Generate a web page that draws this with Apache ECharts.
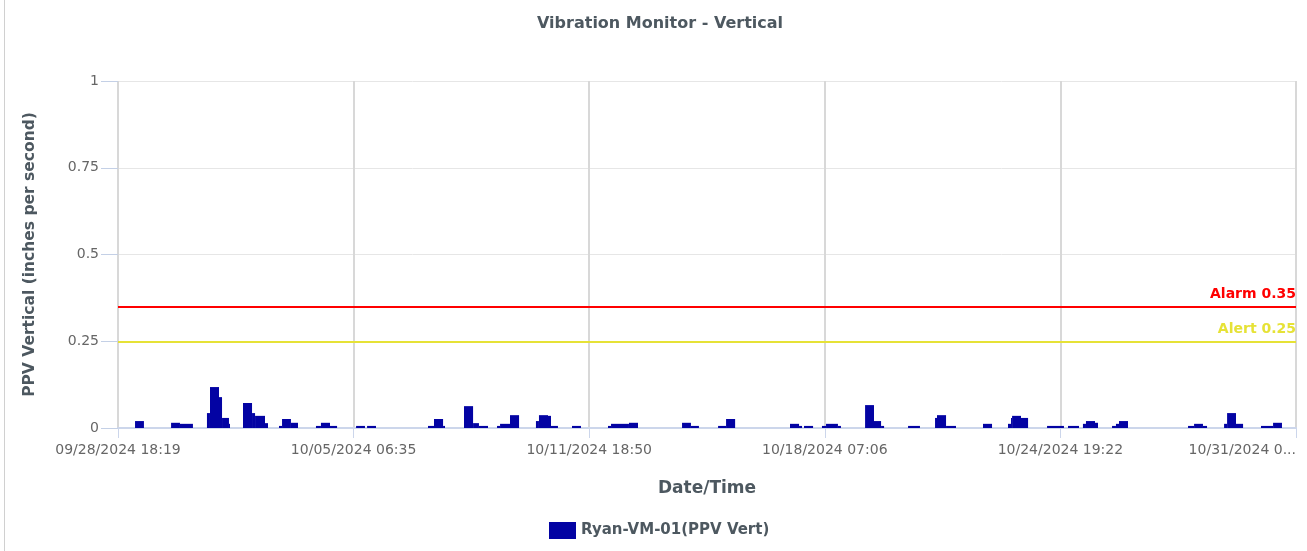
<!DOCTYPE html>
<html>
<head>
<meta charset="utf-8">
<title>Vibration Monitor - Vertical</title>
<script src="https://cdn.jsdelivr.net/npm/echarts@6/dist/echarts.min.js"></script>
<style>
  html, body { margin: 0; padding: 0; background: #fff; }
  #chart { width: 1307px; height: 551px; }
  #edge { position: absolute; left: 4px; top: 0; width: 1px; height: 551px; background: #d0d0d0; }
</style>
</head>
<body>
<div id="edge"></div>
<div id="chart"></div>
<script>
// hours since 09/28/2024 18:19 -- each block is [start, end] with one PPV reading
var startHours = [11.3, 35.2, 41.1, 59.0, 61.0, 67.0, 69.0, 73.6, 82.9, 88.9, 90.9, 97.5, 106.8, 108.8, 114.7,
  131.3, 134.6, 140.6, 157.9, 165.2, 205.6, 209.6, 215.6, 229.5, 235.5, 239.4, 251.4, 253.4, 260.0,
  277.2, 279.2, 285.2, 287.2, 301.1, 325.0, 327.0, 338.9, 374.1, 380.0, 398.0, 403.3, 445.7, 451.7,
  455.0, 466.9, 469.6, 477.5, 495.5, 501.4, 506.1, 524.0, 541.9, 543.2, 549.2, 573.7, 590.3, 592.3,
  593.0, 598.9, 616.2, 630.1, 640.0, 642.0, 648.0, 659.3, 661.9, 663.9, 709.7, 713.7, 719.6, 733.6,
  735.6, 741.5, 758.1, 766.1];
var endHours = [17.2, 41.1, 49.7, 61.0, 67.0, 69.0, 73.6, 74.3, 88.9, 90.9, 97.5, 99.5, 108.8, 114.7, 119.4,
  134.6, 140.6, 145.3, 163.8, 171.1, 209.6, 215.6, 216.9, 235.5, 239.4, 245.4, 253.4, 260.0, 266.0,
  279.2, 285.2, 287.2, 291.8, 307.1, 327.0, 338.9, 344.9, 380.0, 385.3, 403.3, 409.3, 451.7, 453.7,
  461.0, 469.6, 477.5, 479.5, 501.4, 506.1, 508.1, 531.9, 543.2, 549.2, 555.8, 579.7, 592.3, 593.0,
  598.9, 603.6, 627.4, 637.4, 642.0, 648.0, 650.0, 661.9, 663.9, 669.9, 713.7, 719.6, 722.3, 735.6,
  741.5, 746.2, 766.1, 772.0];
var ppv = [0.020, 0.015, 0.012, 0.043, 0.118, 0.089, 0.029, 0.012, 0.072, 0.043, 0.035, 0.014, 0.006, 0.026, 0.015,
  0.006, 0.015, 0.006, 0.006, 0.006, 0.006, 0.026, 0.006, 0.063, 0.014, 0.006, 0.006, 0.012, 0.037,
  0.020, 0.037, 0.035, 0.006, 0.006, 0.006, 0.012, 0.015, 0.015, 0.006, 0.006, 0.026, 0.012, 0.006,
  0.006, 0.006, 0.012, 0.006, 0.066, 0.020, 0.006, 0.006, 0.029, 0.037, 0.006, 0.012, 0.012, 0.029,
  0.035, 0.029, 0.006, 0.006, 0.012, 0.020, 0.015, 0.006, 0.012, 0.020, 0.006, 0.012, 0.006, 0.012,
  0.043, 0.012, 0.006, 0.015];

var seriesName = 'Ryan-VM-01(PPV Vert)';
var alarmLevel = 0.35;
var alertLevel = 0.25;
var yTicks = [0, 0.25, 0.5, 0.75, 1];

var startTime = new Date(2024, 8, 28, 18, 19).getTime();
var tickStep = (9375 + 2 / 3) / 60;   // about 6 days 12:15.7
var xMax = tickStep * 5;

function pad(n) { return n < 10 ? '0' + n : '' + n; }
function fmt(h) {
  var d = new Date(startTime + Math.round(h * 60) * 60000);
  return pad(d.getMonth() + 1) + '/' + pad(d.getDate()) + '/' + d.getFullYear() + ' ' + pad(d.getHours()) + ':' + pad(d.getMinutes());
}

var blocks = [];
for (var i = 0; i < ppv.length; i++) {
  blocks.push([startHours[i], endHours[i], ppv[i]]);
}

var chart = echarts.init(document.getElementById('chart'));
var textColor = '#4d5860';
var font = 'DejaVu Sans, Verdana, sans-serif';

var option = {
  animation: false,
  textStyle: { fontFamily: font },
  title: {
    text: 'Vibration Monitor - Vertical',
    left: 532,
    top: 11,
    textStyle: { fontSize: 16, fontWeight: 'bold', color: textColor, fontFamily: font }
  },
  legend: {
    bottom: 7,
    left: 544,
    itemWidth: 27,
    itemHeight: 17,
    icon: 'rect',
    textStyle: { fontSize: 15, fontWeight: 'bold', color: textColor },
    data: [seriesName]
  },
  grid: { left: 118, right: 11, top: 81, bottom: 123 },
  xAxis: {
    type: 'value',
    min: 0,
    max: xMax,
    interval: tickStep,
    name: 'Date/Time',
    nameLocation: 'middle',
    nameGap: 52,
    nameTextStyle: { fontSize: 17, fontWeight: 'bold', color: textColor },
    axisLine: { lineStyle: { color: '#ccd6eb', width: 2 } },
    axisTick: { show: true, length: 10, lineStyle: { color: '#ccd6eb' } },
    axisLabel: {
      fontSize: 14,
      color: '#666',
      margin: 15,
      alignMaxLabel: 'right',
      formatter: function (v) {
        var s = fmt(v);
        if (v >= xMax - 0.01) return s.slice(0, 12) + '...';
        return s;
      }
    },
    splitLine: { show: true, lineStyle: { color: '#d8d8d8', width: 2 } }
  },
  yAxis: {
    type: 'value',
    min: yTicks[0],
    max: yTicks[yTicks.length - 1],
    interval: 0.25,
    name: 'PPV Vertical (inches per second)',
    nameLocation: 'middle',
    nameGap: 80,
    nameTextStyle: { fontSize: 15.5, fontWeight: 'bold', color: textColor },
    axisLine: { show: false },
    axisTick: { show: true, length: 17, lineStyle: { color: '#c4d0e6' } },
    axisLabel: { fontSize: 14, color: '#666', margin: 19 },
    splitLine: { lineStyle: { color: '#e6e6e6', width: 1 } }
  },
  series: [
    {
      name: seriesName,
      type: 'custom',
      itemStyle: { color: '#0303a3' },
      encode: { x: [0, 1], y: 2 },
      renderItem: function (params, api) {
        var p0 = api.coord([api.value(0), api.value(2)]);
        var p1 = api.coord([api.value(1), 0]);
        return {
          type: 'rect',
          shape: { x: p0[0], y: p0[1], width: p1[0] - p0[0], height: p1[1] - p0[1] },
          style: { fill: '#0303a3' }
        };
      },
      data: blocks
    },
    {
      name: 'limits',
      type: 'line',
      data: [],
      markLine: {
        silent: true,
        symbol: 'none',
        data: [
          {
            yAxis: alarmLevel,
            lineStyle: { color: '#ff0000', width: 2, type: 'solid' },
            label: { formatter: 'Alarm ' + alarmLevel, position: 'insideEndTop', color: '#ff0000', fontWeight: 'bold', fontSize: 14, distance: [0, 5] }
          },
          {
            yAxis: alertLevel,
            lineStyle: { color: '#e6e236', width: 2, type: 'solid' },
            label: { formatter: 'Alert ' + alertLevel, position: 'insideEndTop', color: '#e6e236', fontWeight: 'bold', fontSize: 14, distance: [0, 5] }
          }
        ]
      }
    }
  ]
};

chart.setOption(option);
</script>
</body>
</html>
